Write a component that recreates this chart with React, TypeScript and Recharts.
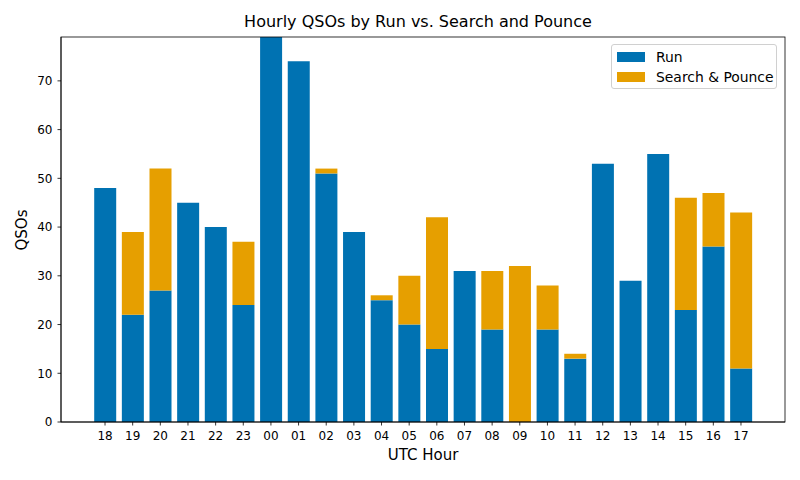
import React from "react";
import { BarChart, Bar, XAxis, YAxis } from "recharts";

const hours = ["18","19","20","21","22","23","00","01","02","03","04","05","06","07","08","09","10","11","12","13","14","15","16","17"];
const runQsos = [48,22,27,45,40,24,79,74,51,39,25,20,15,31,19,0,19,13,53,29,55,23,36,11];
const spQsos = [0,17,25,0,0,13,0,0,1,0,1,10,27,0,12,32,9,1,0,0,0,23,11,32];
const yTicks = [0,10,20,30,40,50,60,70];

const RUN_COLOR = "#0072B2";
const SP_COLOR = "#E69F00";
const FONT = "'DejaVu Sans', sans-serif";

const data = hours.map((h, i) => ({ hour: h, run: runQsos[i], sp: spQsos[i] }));

export default function App() {
  return (
    <div style={{ position: "absolute", left: 0, top: 0, width: 800, height: 480, background: "#fff", fontFamily: FONT }}>
      <BarChart
        width={800}
        height={480}
        data={data}
        margin={{ top: 37, right: 15, bottom: 28, left: 0 }}
        barSize={22}
      >
        <XAxis
          dataKey="hour"
          height={30}
          padding={{ left: 30.2, right: 30.2 }}
          tick={{ fill: "#000", fontSize: 12, fontFamily: FONT }}
          tickSize={3.5}
          tickMargin={6}
          tickLine={{ stroke: "#000", strokeWidth: 0.8 }}
          axisLine={{ stroke: "#000", strokeWidth: 0.8 }}
          interval={0}
        />
        <YAxis
          width={61}
          domain={[0, 79]}
          ticks={yTicks}
          allowDataOverflow
          tick={{ fill: "#000", fontSize: 12, fontFamily: FONT }}
          tickSize={3.5}
          tickMargin={5}
          tickLine={{ stroke: "#000", strokeWidth: 0.8 }}
          axisLine={{ stroke: "#000", strokeWidth: 0.8 }}
        />
        <Bar dataKey="run" stackId="a" fill={RUN_COLOR} isAnimationActive={false} />
        <Bar dataKey="sp" stackId="a" fill={SP_COLOR} isAnimationActive={false} />
      </BarChart>

      <svg width={800} height={480} style={{ position: "absolute", left: 0, top: 0, pointerEvents: "none" }}>
        <rect x={61} y={37} width={724} height={385} fill="none" stroke="#000" strokeWidth={0.8} />
      </svg>

      <div style={{ position: "absolute", left: 0, width: 800, top: 12, textAlign: "center", fontSize: 16, lineHeight: "20px", color: "#000" }}>
        <span style={{ position: "relative", left: 18 }}>Hourly QSOs by Run vs. Search and Pounce</span>
      </div>

      <div style={{ position: "absolute", left: 61, width: 724, top: 446, textAlign: "center", fontSize: 15, lineHeight: "18px", color: "#000" }}>
        UTC Hour
      </div>

      <div style={{ position: "absolute", left: 22, top: 229.5, width: 0, height: 0 }}>
        <div style={{ position: "absolute", transform: "translate(-50%, -50%) rotate(-90deg)", fontSize: 15, lineHeight: "18px", whiteSpace: "nowrap", color: "#000" }}>
          QSOs
        </div>
      </div>

      <div style={{ position: "absolute", left: 611, top: 44, width: 166, height: 45, border: "1px solid #d0d0d0", borderRadius: 3, background: "rgba(255,255,255,0.8)", boxSizing: "border-box" }}>
        <div style={{ position: "absolute", left: 5, top: 7, width: 28, height: 10, background: RUN_COLOR }} />
        <div style={{ position: "absolute", left: 44, top: 3, fontSize: 13.9, lineHeight: "18px", color: "#000" }}>Run</div>
        <div style={{ position: "absolute", left: 5, top: 27, width: 28, height: 10, background: SP_COLOR }} />
        <div style={{ position: "absolute", left: 44, top: 23, fontSize: 13.9, lineHeight: "18px", color: "#000", whiteSpace: "nowrap" }}>Search &amp; Pounce</div>
      </div>
    </div>
  );
}
